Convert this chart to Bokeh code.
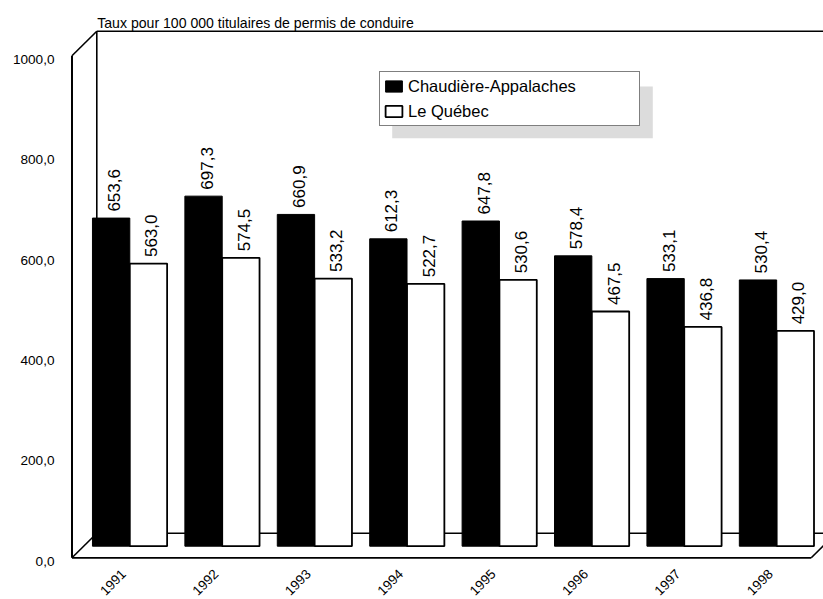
import math
from bokeh.plotting import figure
from bokeh.models import ColumnDataSource, Range1d, Legend, LegendItem, Label
from bokeh.core.properties import value
from bokeh.embed import file_html
from bokeh.resources import INLINE

# ---------------- data ----------------
years = ["1991", "1992", "1993", "1994", "1995", "1996", "1997", "1998"]
chaudiere = [653.6, 697.3, 660.9, 612.3, 647.8, 578.4, 533.1, 530.4]
quebec = [563.0, 574.5, 533.2, 522.7, 530.6, 467.5, 436.8, 429.0]
y_ticks = [0, 200, 400, 600, 800, 1000]
series_names = ["Chaudière-Appalaches", "Le Québec"]
title_text = "Taux pour 100 000 titulaires de permis de conduire"
y_max = 1000

# ---------------- layout constants (pixels on the page) ----------------
PX_PER_X = 92.41      # pixels per category
X_CENTER0 = 129.3     # page x of first group centre (bar plane)
PX_PER_V = 0.502      # pixels per unit of value
Y_ZERO = 545.7        # page y of value 0 (bar plane)
FIG_W, FIG_H = 823, 599
ORIGIN = 0            # page position of the figure's top-left corner


def xd(px):
    return (px - X_CENTER0) / PX_PER_X


def yd(py):
    return (Y_ZERO - py) / PX_PER_V


# depth shifts (data units)
FX, FY = -11.6 / PX_PER_X, -11.6 / PX_PER_V     # front plane
BX, BY = 13.2 / PX_PER_X, 13.0 / PX_PER_V       # back wall

FONT = value("Liberation Sans")

p = figure(width=FIG_W, height=FIG_H, output_backend="svg", toolbar_location=None,
           x_range=Range1d(xd(ORIGIN), xd(ORIGIN + FIG_W)),
           y_range=Range1d(yd(ORIGIN + FIG_H), yd(ORIGIN)),
           x_axis_type=None, y_axis_type=None)
p.min_border_left = p.min_border_right = p.min_border_top = p.min_border_bottom = 0
p.outline_line_color = None
p.background_fill_color = "white"
p.border_fill_color = "white"

n = len(years)
idx = list(range(n))
x_lo, x_hi = -0.5, n - 0.5

# ---------------- walls / floor ----------------
x0s, y0s, x1s, y1s, widths = [], [], [], [], []


def seg(a, b, w=1.6):
    x0s.append(a[0]); y0s.append(a[1]); x1s.append(b[0]); y1s.append(b[1]); widths.append(w)


def front(x, v):
    return (x + FX, v + FY)


def back(x, v):
    return (x + BX, v + BY)


seg(back(x_lo, 0), back(x_lo, y_max))
seg(back(x_lo, y_max), back(x_hi + 1, y_max))
seg(back(x_lo, 0), back(x_hi, 0))
seg(front(x_lo, y_max), back(x_lo, y_max))
seg(front(x_lo, 0), back(x_lo, 0))
seg(front(x_lo, 0), front(x_lo, y_max), 2.0)
seg(front(x_lo, 0), front(x_hi, 0), 1.8)
seg(front(x_hi, 0), back(x_hi, 0))
p.segment(x0=x0s, y0=y0s, x1=x1s, y1=y1s, line_color="black", line_width=widths)

# ---------------- legend shadow ----------------
p.quad(left=[xd(391.7)], right=[xd(652.3)], top=[yd(86)], bottom=[yd(137.7)],
       fill_color="#dcdcdc", line_color=None)

# ---------------- bars ----------------
bw = 0.404
src = ColumnDataSource(dict(
    xa=[i - bw / 2 for i in idx], xb=[i + bw / 2 for i in idx],
    ca=chaudiere, qb=quebec,
    la=[f"{v:.1f}".replace(".", ",") for v in chaudiere],
    lb=[f"{v:.1f}".replace(".", ",") for v in quebec],
))
r1 = p.vbar(x="xa", width=bw, top="ca", bottom=0, source=src,
            fill_color="black", line_color="black", line_width=1)
r2 = p.vbar(x="xb", width=bw, top="qb", bottom=0, source=src,
            fill_color="white", line_color="black", line_width=1.8)

for xc, yc, lc in (("xa", "ca", "la"), ("xb", "qb", "lb")):
    p.text(x=xc, y=yc, text=lc, source=src, angle=math.pi / 2,
           text_align="left", text_baseline="middle", x_offset=3, y_offset=-6.5,
           text_font=FONT, text_font_size="17px", text_color="black")

# ---------------- y tick labels (front plane) ----------------
ysrc = ColumnDataSource(dict(
    x=[x_lo + FX] * len(y_ticks),
    y=[t + FY for t in y_ticks],
    t=[f"{t:.1f}".replace(".", ",") for t in y_ticks],
))
p.text(x="x", y="y", text="t", source=ysrc, text_align="right", text_baseline="middle",
       x_offset=-17.5, y_offset=3.5, text_font=FONT, text_font_size="13.6px",
       text_color="black")

# ---------------- x tick labels ----------------
xsrc = ColumnDataSource(dict(x=[i + FX for i in idx], y=[FY] * n, t=years))
p.text(x="x", y="y", text="t", source=xsrc, angle=math.pi / 4,
       text_align="right", text_baseline="alphabetic", x_offset=5.5, y_offset=14,
       text_font=FONT, text_font_size="13.5px", text_color="black")

# ---------------- title ----------------
p.add_layout(Label(x=xd(96.7), y=yd(22.5), text=title_text, text_align="left",
                   text_baseline="alphabetic", text_font="Liberation Sans",
                   text_font_size="14.1px", text_color="black"))

# ---------------- legend ----------------
legend = Legend(items=[LegendItem(label=series_names[0], renderers=[r1]),
                       LegendItem(label=series_names[1], renderers=[r2])],
                location=(379 - ORIGIN, FIG_H - (126.3 - ORIGIN)), orientation="vertical",
                padding=3, spacing=3, margin=0,
                glyph_width=21, glyph_height=14, label_standoff=4,
                label_width=228, label_height=22,
                label_text_font="Liberation Sans", label_text_font_size="16.5px",
                label_text_color="black",
                border_line_color="black", border_line_width=1,
                background_fill_color="white", background_fill_alpha=1.0)
p.add_layout(legend)

open("out.html", "w").write(file_html(p, INLINE))
